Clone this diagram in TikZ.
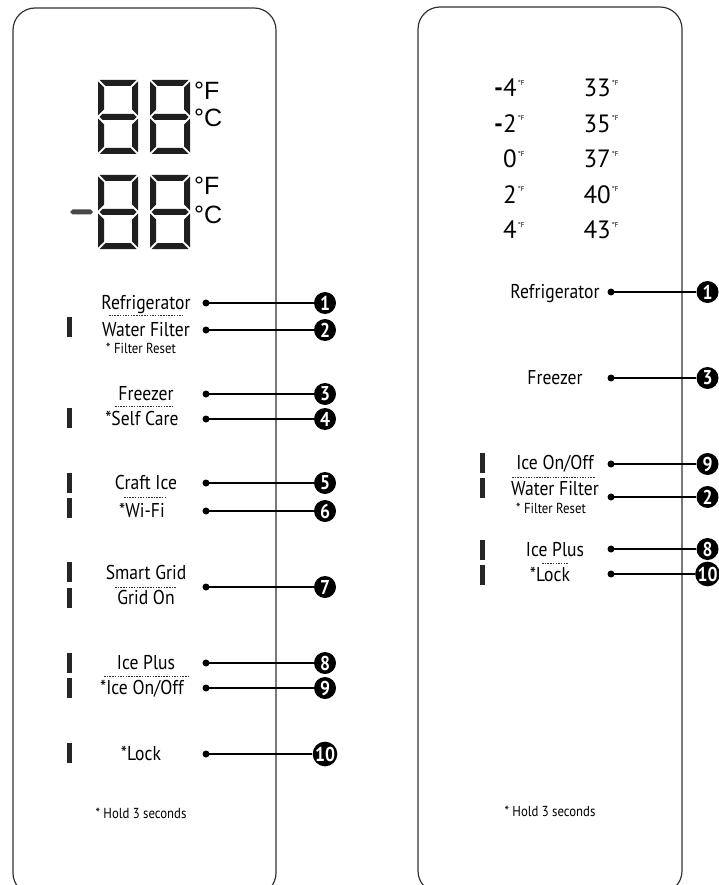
\documentclass[tikz,border=0pt]{standalone}
\usepackage{fontspec}
\setmainfont{PT Sans}[FakeStretch=0.88]
\newfontfamily\tempfont{PT Sans}
\newfontfamily\unitfont{Liberation Sans}

\tikzset{
  % one seven-segment digit, origin at its top left corner (40 x 74)
  segdigit/.pic={
    \fill[seg] (1.5,0) -- (38.5,0) -- (32.5,6) -- (7.5,6) -- cycle;
    \fill[seg] (0,1.5) -- (6,7.5) -- (6,29.5) -- (0,35.5) -- cycle;
    \fill[seg] (40,1.5) -- (34,7.5) -- (34,29.5) -- (40,35.5) -- cycle;
    \fill[seg] (1.5,37) -- (4.5,34) -- (35.5,34) -- (38.5,37) -- (35.5,40) -- (4.5,40) -- cycle;
    \fill[seg] (0,38.5) -- (6,44.5) -- (6,66.5) -- (0,72.5) -- cycle;
    \fill[seg] (40,38.5) -- (34,44.5) -- (34,66.5) -- (40,72.5) -- cycle;
    \fill[seg] (1.5,74) -- (38.5,74) -- (32.5,68) -- (7.5,68) -- cycle;
  }
}

\begin{document}
\begin{tikzpicture}[x=1pt, y=-1pt,
  panel/.style={draw=black!80, line width=1.2pt, rounded corners=22pt},
  seg/.style={fill=black!88},
  lbl/.style={font=\fontsize{20}{22}\selectfont, inner sep=0pt, anchor=base},
  note/.style={font=\fontsize{14.5}{16}\selectfont, inner sep=0pt, anchor=base},
  temp/.style={font=\tempfont\fontsize{25}{27}\selectfont, inner sep=0pt, anchor=base east},
  unit/.style={font=\unitfont\fontsize{25}{26}\selectfont, inner sep=0pt, anchor=base west},
  dot/.style={circle, fill=black, minimum size=7pt, inner sep=0pt},
  num/.style={circle, fill=black, text=white, minimum size=22pt, inner sep=0pt,
    font=\bfseries\fontsize{20}{20}\selectfont},
  lead/.style={line width=2pt},
  bar/.style={fill=black!85, minimum width=5pt, minimum height=20pt, inner sep=0pt},
  sep/.style={draw=black!80, line width=0.6pt, dash pattern=on 1.5pt off 1.2pt}]

  \useasboundingbox (0,0) rectangle (719,885);
  \clip (0,0) rectangle (719,885);

  % the two panels
  \draw[panel] (13,8) rectangle (276,895);
  \draw[panel] (418,7) rectangle (682,893);

  % left display
  \pic at (98,80) {segdigit};
  \pic at (150,80) {segdigit};
  \node[unit] (uf1) at (194,100) {°F};
  \node[unit] (uc1) at (194,127) {°C};
  \fill[black!72] (70,212) -- (72.5,209.5) -- (90.5,209.5) -- (93,212) -- (90.5,214.5) -- (72.5,214.5) -- cycle;
  \pic at (98,175) {segdigit};
  \pic at (150,175) {segdigit};
  \node[unit] (uf2) at (194,195) {°F};
  \node[unit] (uc2) at (194,224) {°C};

  % left labels
  \node[lbl] (lref)  at (146,309.5) {Refrigerator};
  \node[lbl] (lwat)  at (146,336.5) {Water Filter};
  \node[note] (lrst) at (141,353)   {* Filter Reset};
  \node[lbl] (lfrz)  at (146,400.5) {Freezer};
  \node[lbl] (lself) at (145,425.5) {\llap{*}Self Care};
  \node[lbl] (lcraft) at (146,489.5) {Craft Ice};
  \node[lbl] (lwifi) at (145,517.5) {\llap{*}Wi-Fi};
  \node[lbl] (lsmart) at (146,579.5) {Smart Grid};
  \node[lbl] (lgrid) at (146,604.5) {Grid On};
  \node[lbl] (lplus) at (146,669.5) {Ice Plus};
  \node[lbl] (lice)  at (145,694.5) {\llap{*}Ice On/Off};
  \node[lbl] (llock) at (144,760.5) {\llap{*}Lock};
  \node[note] (lhold) at (141,818)  {* Hold 3 seconds};

  \draw[sep] (109,315) -- (182,315);
  \draw[sep] (115,406) -- (172,406);
  \draw[sep] (124,497) -- (167,497);
  \draw[sep] (115,587) -- (176,587);
  \draw[sep] (104,676) -- (188,676);

  \node[bar] (lb2)  at (69.5,327)   {};
  \node[bar] (lb4)  at (69.5,417.5) {};
  \node[bar] (lb5)  at (69.5,482.5) {};
  \node[bar] (lb6)  at (69.5,508)   {};
  \node[bar] (lb7a) at (69.5,572)   {};
  \node[bar] (lb7b) at (69.5,598)   {};
  \node[bar] (lb8)  at (69.5,663)   {};
  \node[bar] (lb9)  at (69.5,688)   {};
  \node[bar] (lb10) at (69.5,753)   {};

  % left leads
  \node[dot] (ld1)  at (206,303) {};
  \node[dot] (ld2)  at (206,330) {};
  \node[dot] (ld3)  at (206,394) {};
  \node[dot] (ld4)  at (206,419) {};
  \node[dot] (ld5)  at (206,483) {};
  \node[dot] (ld6)  at (206,511) {};
  \node[dot] (ld7)  at (206,587) {};
  \node[dot] (ld8)  at (206,663) {};
  \node[dot] (ld9)  at (206,688) {};
  \node[dot] (ld10) at (206,754) {};

  \node[num] (ln1)  at (325,303) {1};
  \node[num] (ln2)  at (325,330) {2};
  \node[num] (ln3)  at (325,394) {3};
  \node[num] (ln4)  at (325,419) {4};
  \node[num] (ln5)  at (325,483) {5};
  \node[num] (ln6)  at (325,511) {6};
  \node[num] (ln7)  at (325,587) {7};
  \node[num] (ln8)  at (325,663) {8};
  \node[num] (ln9)  at (325,688) {9};
  \node[num] (ln10) at (325,754) {10};

  \foreach \i in {1,...,10}
    \draw[lead] (ld\i.center) -- (ln\i);

  % right temperatures
  \foreach \lo/\hi [count=\k] in {{\bfseries-}4/33, {\bfseries-}2/35, 0/37, 2/40, 4/43} {
    \node[temp] (tlo\k) at (517,61.5+35.5*\k)
      {\lo\rlap{\hspace{1pt}\raisebox{11.5pt}{\fontsize{7}{7}\selectfont °F}}};
    \node[temp] (thi\k) at (611,61.5+35.5*\k)
      {\hi\rlap{\hspace{1pt}\raisebox{11.5pt}{\fontsize{7}{7}\selectfont °F}}};
  }

  % right labels
  \node[lbl] (rref)  at (555,298.5) {Refrigerator};
  \node[lbl] (rfrz)  at (555,384.5) {Freezer};
  \node[lbl] (rice)  at (555,469.5) {Ice On/Off};
  \node[lbl] (rwat)  at (555,495.5) {Water Filter};
  \node[note] (rrst) at (551,513)   {* Filter Reset};
  \node[lbl] (rplus) at (555,556.5) {Ice Plus};
  \node[lbl] (rlock) at (553,581.5) {\llap{*}Lock};
  \node[note] (rhold) at (550,816)  {* Hold 3 seconds};

  \draw[sep] (512,477) -- (595,477);
  \draw[sep] (542,563) -- (568,563);

  \node[bar] (rb9)  at (482.5,462.5) {};
  \node[bar] (rb2)  at (482.5,488)   {};
  \node[bar] (rb8)  at (482.5,549.5) {};
  \node[bar] (rb10) at (482.5,574.5) {};

  % right leads
  \node[dot] (rd1)  at (611,292) {};
  \node[dot] (rd3)  at (611,378) {};
  \node[dot] (rd9)  at (611,464) {};
  \node[dot] (rd2)  at (611,497) {};
  \node[dot] (rd8)  at (611,549) {};
  \node[dot] (rd10) at (611,574) {};

  \node[num] (rn1)  at (707.5,292) {1};
  \node[num] (rn3)  at (707.5,378) {3};
  \node[num] (rn9)  at (707.5,464) {9};
  \node[num] (rn2)  at (707.5,497) {2};
  \node[num] (rn8)  at (707.5,549) {8};
  \node[num] (rn10) at (707.5,574) {10};

  \foreach \i in {1,3,9,2,8,10}
    \draw[lead] (rd\i.center) -- (rn\i);
\end{tikzpicture}
\end{document}
